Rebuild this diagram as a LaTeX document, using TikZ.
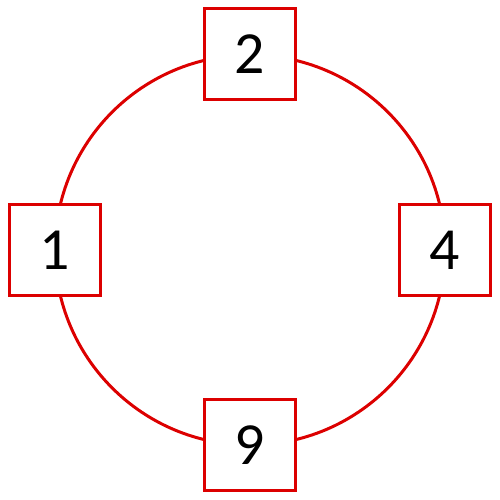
\documentclass[tikz,border=0pt]{standalone}
\usepackage{fontspec}
\setmainfont{Carlito}
\usepackage{tikz}
\definecolor{ringred}{RGB}{220,0,0}

\begin{document}
\begin{tikzpicture}[x=1cm,y=1cm,
  numbox/.style={draw=ringred, line width=1.7pt, fill=white, minimum size=1.82cm, inner sep=0pt, font=\fontsize{34}{40}\selectfont}]
  \useasboundingbox (-5,-5) rectangle (5,5);
  \draw[ringred, line width=1.7pt] (0,0) circle (3.9);

  \node[numbox] (two) at (90:3.92) {2};
  \node[numbox] (one) at (180:3.9) {1};
  \node[numbox] (four) at (0:3.9) {4};
  \node[numbox] (nine) at (270:3.9) {9};
\end{tikzpicture}
\end{document}
